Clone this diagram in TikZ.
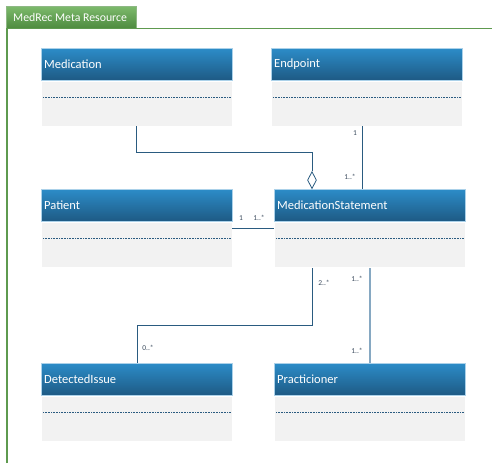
\documentclass[tikz,border=0pt]{standalone}
\usepackage{fontspec}
\setmainfont{Carlito}
\usetikzlibrary{calc,shapes.geometric}
\definecolor{hdrtop}{HTML}{2C8CC8}
\definecolor{hdrbot}{HTML}{1E5A84}
\definecolor{bodyc}{HTML}{F2F2F2}
\definecolor{linec}{HTML}{2A5B80}
\definecolor{lightline}{HTML}{86A8C2}
\definecolor{greentop}{HTML}{7DBA6C}
\definecolor{greenbot}{HTML}{4E8B3F}
\definecolor{greenline}{HTML}{5E9A4F}
\definecolor{labc}{HTML}{3C4C5E}
\tikzset{
  hdr/.style={anchor=north west, rectangle, minimum width=191pt, minimum height=32pt,
    top color=hdrtop, bottom color=hdrbot, draw=hdrtop!40!white, line width=0.4pt,
    text=white, font=\fontsize{12.5}{14}\selectfont, align=left, text width=185pt, inner xsep=3pt},
  bdy/.style={anchor=north west, rectangle, minimum width=191pt, minimum height=45pt,
    fill=bodyc, draw=white, line width=0.4pt, inner sep=0pt},
  dsh/.style={draw=linec, dashed, dash pattern=on 1pt off 0.6pt, line width=0.5pt},
  conn/.style={draw=linec, line width=0.9pt},
  lconn/.style={draw=lightline, line width=1.2pt},
  mult/.style={font=\fontsize{7.5}{8}\selectfont, text=labc, inner sep=0pt},
}
\begin{document}
\begin{tikzpicture}[x=1pt,y=-1pt]
\useasboundingbox (0,0) rectangle (492,463);
% frame
\node[anchor=north west, rectangle, minimum width=130pt, minimum height=22pt,
  top color=greentop, bottom color=greenbot, draw=greenline!70!white, inner sep=0pt] (tab) at (6,6) {};
\node[anchor=west, text=white, font=\fontsize{11.8}{13}\selectfont, inner sep=0pt] (tabtxt) at (13,17) {MedRec Meta Resource};
\coordinate (fr1) at (492,28.5);
\coordinate (fr3) at (7,463);
\draw[greenline, line width=1.6pt] (fr3) |- (fr1);
% classes
\node[hdr] (medh) at (41,48) {Medication};
\node[bdy] (medb) at (41,81) {};
\node[hdr] (endh) at (271,48) {Endpoint};
\node[bdy] (endb) at (271,81) {};
\node[hdr] (path) at (41,189) {Patient};
\node[bdy] (patb) at (41,222) {};
\node[hdr] (msh) at (274,189) {MedicationStatement};
\node[bdy] (msb) at (274,222) {};
\node[hdr] (dih) at (41,363) {DetectedIssue};
\node[bdy] (dib) at (41,396) {};
\node[hdr] (prh) at (274,363) {Practicioner};
\node[bdy] (prb) at (274,396) {};
\foreach \b in {medb,endb,patb,msb,dib,prb}{
  \draw[dsh] ($(\b.north west)+(2,16)$) -- ($(\b.north east)+(-2,16)$);
}
% aggregation Medication -> MedicationStatement
\node[diamond, draw=linec, fill=white, line width=0.8pt, minimum width=9pt, minimum height=17pt, inner sep=0pt, anchor=south] (dia) at (312,189) {};
\draw[conn] (medb.south) |- (312,152) -- (dia.north);
% Endpoint -> MS
\draw[conn] (362,126) coordinate (ep1) -- (362,189) coordinate (ep2);
\node[mult] (l1) at (355,133) {1};
\node[mult] (l2) at (350,177) {1..*};
% Patient -> MS
\draw[conn] (patb.north east) ++(0,6) coordinate (pa1) -- (msb.north west |- pa1);
\node[mult] (l3) at (241,218) {1};
\node[mult] (l4) at (259,218) {1..*};
% MS -> DetectedIssue
\draw[conn] (312,268) coordinate (di1) |- (137,325) -- (137,363) coordinate (di2);
\node[mult] (l5) at (324,283) {2..*};
\node[mult] (l6) at (148,348) {0..*};
% MS -> Practicioner
\draw[lconn] (370,268) coordinate (pr1) -- (370,363) coordinate (pr2);
\node[mult] (l7) at (357,279) {1..*};
\node[mult] (l8) at (357,351) {1..*};
\end{tikzpicture}
\end{document}
